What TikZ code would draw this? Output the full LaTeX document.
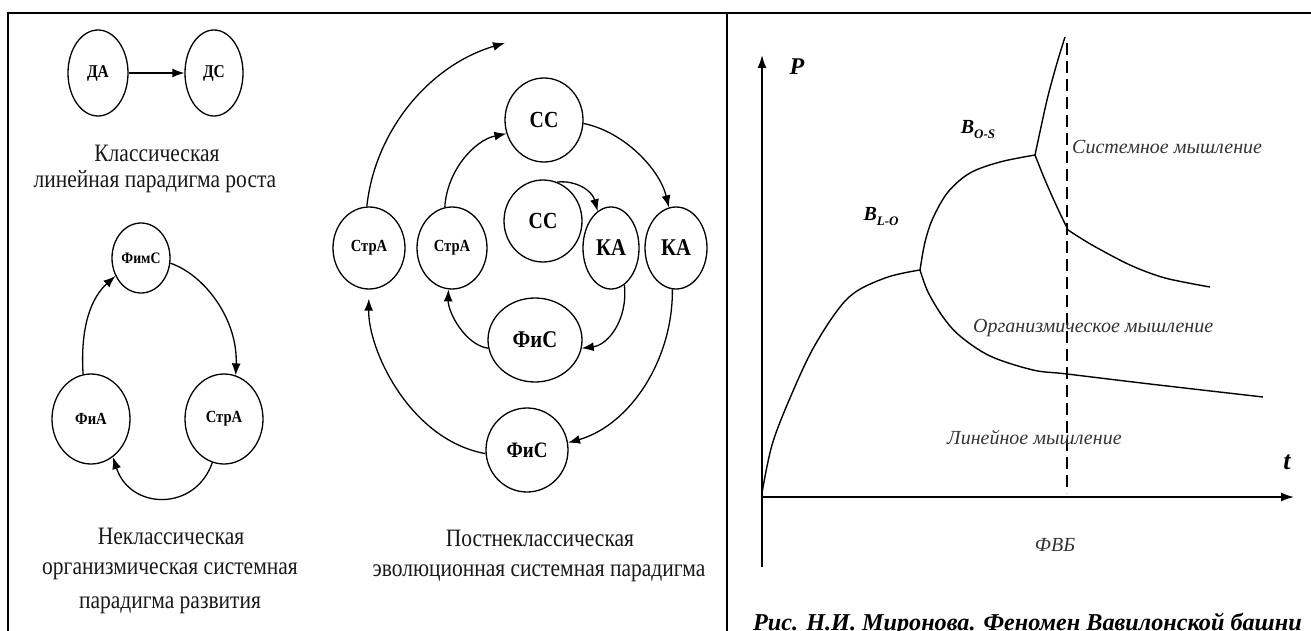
\documentclass[tikz,border=0pt]{standalone}
\usepackage{fontspec}
\setmainfont{Liberation Serif}
\newfontfamily\cf[FakeStretch=0.86]{Liberation Serif}
\usetikzlibrary{shapes.geometric,arrows.meta}
\begin{document}
\begin{tikzpicture}[x=1pt,y=-1pt,
  el/.style={ellipse, draw, line width=1.3pt, inner sep=0pt},
  lab/.style={font=\cf\bfseries\fontsize{#1}{#1}\selectfont},
  arr/.style={-{Latex[length=12pt,width=9pt]}, line width=1.3pt},
  txt/.style={font=\cf\fontsize{25}{29}\selectfont, inner sep=0pt, text=black!90},
  itx/.style={font=\itshape\fontsize{20}{24}\selectfont, inner sep=0pt, text=black!80},
  frame/.style={line width=2.2pt},
  curve/.style={line width=1.4pt},
  axarr/.style={-{Latex[length=13pt,width=9pt]}, line width=1.6pt}
]
\useasboundingbox (0,0) rectangle (1311,631);
% frame
\draw[frame] (8,631) -- (8,13) -- (1311,13);
\draw[frame] (727,13) -- (727,631);

% ---------- left panel ----------
\node[el, minimum width=60pt, minimum height=86pt, lab=18] (da) at (98,73) {ДА};
\node[el, minimum width=58pt, minimum height=86pt, lab=18] (ds) at (214,73) {ДС};
\draw[arr] (da) -- (ds);
\node[txt] (t1) at (157,153) {Классическая};
\node[txt] (t2) at (155,182) {линейная парадигма роста};

\node[el, minimum width=58pt, minimum height=70pt, lab=16] (fims) at (141,258) {ФимС};
\node[el, minimum width=78pt, minimum height=90pt, lab=17] (fa) at (91,419) {ФиА};
\node[el, minimum width=78pt, minimum height=90pt, lab=17] (stra) at (224,419) {СтрА};
\draw[arr] (fa.100) .. controls (80,325) and (92,297) .. (fims.215);
\draw[arr] (fims.-10) .. controls (205,275) and (238,320) .. (stra.75);
\draw[arr] (stra.-105) .. controls (195,512) and (130,510) .. (fa.-60);
\node[txt] (t3) at (171,536) {Неклассическая};
\node[txt] (t4) at (170,571) {организмическая системная};
\node[txt] (t5) at (170,605) {парадигма развития};

% ---------- middle panel ----------
\node[el, minimum width=72pt, minimum height=82pt, lab=17] (sa1) at (369,248) {СтрА};
\node[el, minimum width=70pt, minimum height=82pt, lab=17] (sa2) at (452,248) {СтрА};
\node[el, minimum width=78pt, minimum height=84pt, lab=23] (cc1) at (544,120) {СС};
\node[el, minimum width=78pt, minimum height=82pt, lab=23] (cc2) at (543,221) {СС};
\node[el, minimum width=56pt, minimum height=82pt, lab=24] (ka1) at (611,248) {КА};
\node[el, minimum width=62pt, minimum height=82pt, lab=24] (ka2) at (676,248) {КА};
\node[el, minimum width=94pt, minimum height=84pt, lab=24] (fs1) at (535,340) {ФиС};
\node[el, minimum width=82pt, minimum height=84pt, lab=22] (fs2) at (527,450) {ФиС};
\coordinate (topend) at (505,43);
\draw[arr] (sa1.93) .. controls (375,130) and (430,65) .. (topend);
\draw[arr] (sa2.100) .. controls (447,170) and (475,140) .. (cc1.200);
\draw[arr] (cc1.-5) .. controls (625,132) and (660,170) .. (ka2.100);
\draw[arr] (cc2.70) .. controls (575,180) and (592,190) .. (ka1.110);
\draw[arr] (ka1.-70) .. controls (628,320) and (608,345) .. (fs1.-10);
\draw[arr] (fs1.190) .. controls (465,345) and (448,312) .. (sa2.-95);
\draw[arr] (ka2.-95) .. controls (673,360) and (630,425) .. (fs2.10);
\draw[arr, shorten >=9pt] (fs2.185) .. controls (410,440) and (368,350) .. (sa1.-90);
\node[txt] (t6) at (540,538) {Постнеклассическая};
\node[txt] (t7) at (539,573) {эволюционная системная парадигма};

% ---------- right panel ----------
\coordinate (ybot) at (762,567);
\coordinate (ytop) at (762,55);
\coordinate (o) at (762,497);
\coordinate (xend) at (1294,497);
\draw[axarr] (ybot) -- (ytop);
\draw[axarr] (o) -- (xend);
\draw[line width=1.3pt, dash pattern=on 12pt off 6pt] (1067,43) -- (1067,493);

\draw[curve] plot[smooth, tension=0.55] coordinates {(762,493) (772,445) (790,398) (815,345) (848,298) (885,278) (920,270)};
\draw[curve] plot[smooth, tension=0.55] coordinates {(920,270) (925,242) (933,218) (948,192) (970,173) (1000,162) (1035,155)};
\draw[curve] plot[smooth, tension=0.5] coordinates {(1035,155) (1047,100) (1057,63) (1065,37)};
\draw[curve] plot[smooth, tension=0.5] coordinates {(1035,155) (1045,180) (1057,207) (1068,230)};
\draw[curve] plot[smooth, tension=0.5] coordinates {(1068,230) (1092,245) (1130,265) (1165,278) (1210,287)};
\draw[curve] plot[smooth, tension=0.55] coordinates {(920,270) (928,292) (943,317) (960,336) (990,356) (1033,370) (1067,374) (1150,384) (1263,397)};

\node[font=\bfseries\itshape\fontsize{24}{24}\selectfont] (P) at (797,67) {P};
\node[font=\bfseries\itshape\fontsize{26}{26}\selectfont] (tt) at (1287,462) {t};
\node[font=\bfseries\itshape\fontsize{20}{20}\selectfont, inner sep=0pt] (blo) at (881,217) {B\raisebox{-5pt}{\fontsize{13}{13}\selectfont L-O}};
\node[font=\bfseries\itshape\fontsize{20}{20}\selectfont, inner sep=0pt] (bos) at (978,130) {B\raisebox{-5pt}{\fontsize{13}{13}\selectfont O-S}};
\node[itx, anchor=west] (sys) at (1072,147) {Системное мышление};
\node[itx, anchor=west] (org) at (973,328) {Организмическое мышление};
\node[itx, anchor=west] (lin) at (947,438) {Линейное мышление};
\node[itx] (fvb) at (1055,545) {ФВБ};
\node[font=\bfseries\itshape\fontsize{24.2}{25}\selectfont, anchor=base west, inner sep=0pt] (cap) at (753,630) {Рис. Н.И. Миронова. Феномен Вавилонской башни};
\end{tikzpicture}
\end{document}
